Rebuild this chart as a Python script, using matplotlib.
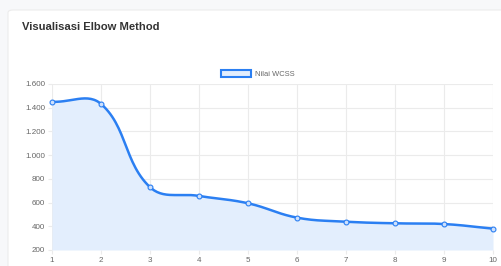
import matplotlib
matplotlib.use("Agg")
import matplotlib.pyplot as plt
import numpy as np
from matplotlib.patches import FancyBboxPatch, Patch

# data
clusters = [1, 2, 3, 4, 5, 6, 7, 8, 9, 10]
wcss = [1450, 1432, 730, 656, 594, 473, 439, 425, 419, 380]
y_ticks = [200, 400, 600, 800, 1000, 1200, 1400, 1600]
title = "Visualisasi Elbow Method"
series_label = "Nilai WCSS"

LINE = "#2b7ff2"
FILL = "#e3eefd"
GRID = "#ebebeb"
TXT = "#666666"

plt.rcParams['font.family'] = ['Liberation Sans', 'DejaVu Sans']


def spline_curve(px, py, tension=0.4, steps=30):
    """smooth curve like chart.js (cubic bezier, tension 0.4), in pixel space"""
    n = len(px)
    cps = []
    for i in range(n):
        p0 = (px[max(i - 1, 0)], py[max(i - 1, 0)])
        p1 = (px[i], py[i])
        p2 = (px[min(i + 1, n - 1)], py[min(i + 1, n - 1)])
        d01 = np.hypot(p1[0] - p0[0], p1[1] - p0[1])
        d12 = np.hypot(p2[0] - p1[0], p2[1] - p1[1])
        tot = d01 + d12
        s01 = d01 / tot if tot else 0
        s12 = d12 / tot if tot else 0
        fa = tension * s01
        fb = tension * s12
        prev_cp = (p1[0] - fa * (p2[0] - p0[0]), p1[1] - fa * (p2[1] - p0[1]))
        next_cp = (p1[0] + fb * (p2[0] - p0[0]), p1[1] + fb * (p2[1] - p0[1]))
        cps.append((prev_cp, next_cp))
    xs, ys = [], []
    t = np.linspace(0, 1, steps)
    for i in range(n - 1):
        a = np.array([px[i], py[i]])
        b = np.array(cps[i][1])
        c = np.array(cps[i + 1][0])
        d = np.array([px[i + 1], py[i + 1]])
        pts = ((1 - t)[:, None] ** 3 * a + 3 * ((1 - t) ** 2 * t)[:, None] * b
               + 3 * ((1 - t) * t ** 2)[:, None] * c + (t ** 3)[:, None] * d)
        xs.extend(pts[:, 0])
        ys.extend(pts[:, 1])
    return np.array(xs), np.array(ys)


fig = plt.figure(figsize=(5.02, 2.66), dpi=100)
fig.patch.set_facecolor("#f7f8fa")

# white card behind everything
card = FancyBboxPatch((8 / 502, -0.05), 1.2, 1.05 - 10 / 266, boxstyle="round,pad=0,rounding_size=0.01",
                      transform=fig.transFigure, facecolor="white", edgecolor="#ececec", linewidth=0.8,
                      zorder=-5)
fig.patches.append(card)

fig.text(22 / 502, 1 - 27 / 266, title, fontsize=8.1, fontweight="bold", color="#333333", va="center")

ax = fig.add_axes([52 / 502, 16 / 266, 441 / 502, 166 / 266])
ax.set_zorder(2)
ax.set_facecolor("none")
ax.set_xlim(1, 10)
ax.set_ylim(200, 1600)
ax.set_xticks(clusters)
ax.set_yticks(y_ticks)
ax.set_yticklabels([f"{v:,}".replace(",", ".") for v in y_ticks])
ax.grid(True, color=GRID, linewidth=0.8)
ax.set_axisbelow(True)
for side in ax.spines:
    ax.spines[side].set_visible(False)
ax.tick_params(axis="both", labelsize=5.8, colors=TXT, length=3, width=0.8, color=GRID, pad=2)

# smooth the line in pixel space, then go back to data coordinates
fig.canvas.draw()
pix = ax.transData.transform(np.column_stack([clusters, wcss]))
sx, sy = spline_curve(pix[:, 0], pix[:, 1])
curve = ax.transData.inverted().transform(np.column_stack([sx, sy]))

ax.fill_between(curve[:, 0], curve[:, 1], 200, color=FILL, linewidth=0, zorder=2)
ax.plot(curve[:, 0], curve[:, 1], color=LINE, linewidth=1.8, zorder=3, solid_capstyle="round")
ax.plot(clusters, wcss, linestyle="none", marker="o", markersize=3.5, markerfacecolor="#cfe1fc",
        markeredgecolor=LINE, markeredgewidth=0.8, zorder=4, clip_on=False)

# legend like chart.js: box + label above the plot
handle = Patch(facecolor=FILL, edgecolor=LINE, linewidth=1.5)
fig.legend([handle], [series_label], loc="center left", bbox_to_anchor=(221 / 502, 1 - 74 / 266),
           frameon=False, fontsize=5.4, labelcolor=TXT, handlelength=4.0, handleheight=1.0,
           handletextpad=0.5, borderpad=0, borderaxespad=0)

fig.savefig("out.png", dpi=100)
